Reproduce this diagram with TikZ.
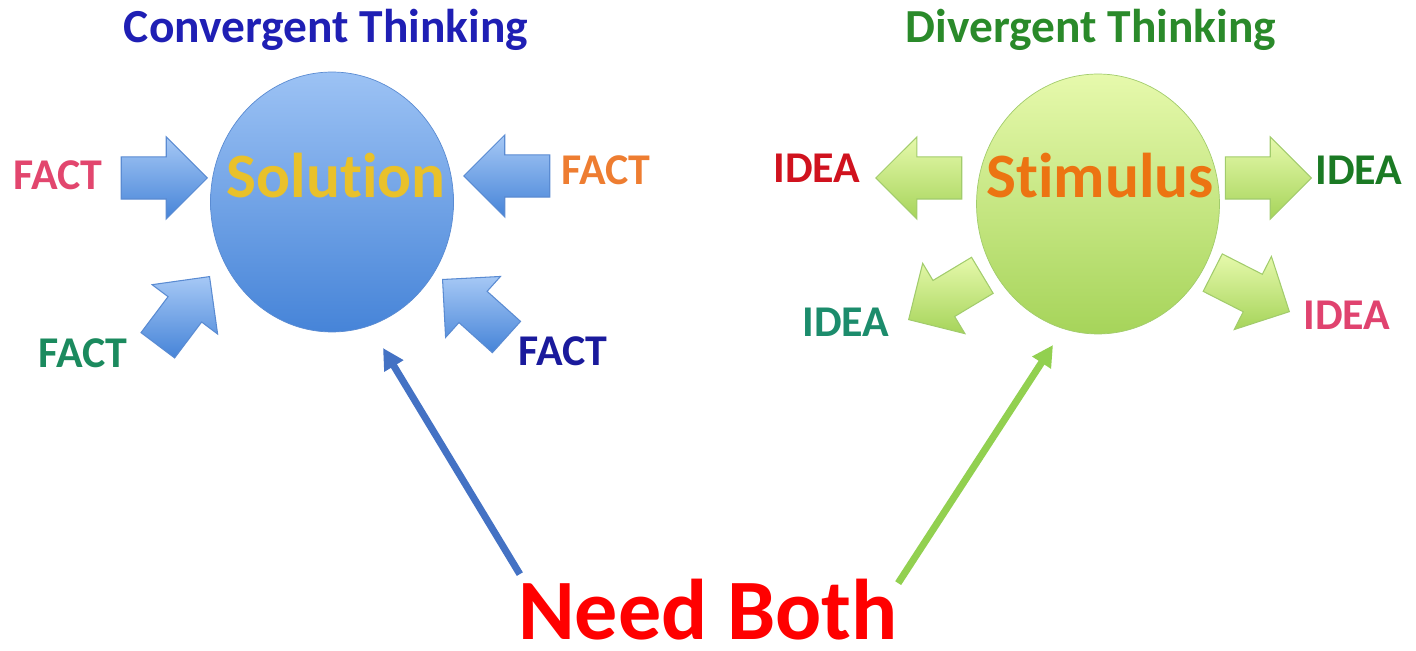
\documentclass[tikz,border=0pt]{standalone}
\usepackage{fontspec}
\setmainfont{Carlito}[Ligatures=NoCommon]
\usetikzlibrary{arrows.meta, shapes.geometric, shapes.arrows, calc}

\definecolor{convblue}{HTML}{1F1FB4}
\definecolor{divgreen}{HTML}{2A8A2A}
\definecolor{soltop}{HTML}{9CC2F4}
\definecolor{solbot}{HTML}{4684D8}
\definecolor{solborder}{HTML}{5A8BD2}
\definecolor{stimtop}{HTML}{E6F9AC}
\definecolor{stimbot}{HTML}{A6D45A}
\definecolor{stimborder}{HTML}{A2CC6C}
\definecolor{solgold}{HTML}{E9C12A}
\definecolor{stimorange}{HTML}{EC7412}
\definecolor{factpink}{HTML}{E2466E}
\definecolor{factorange}{HTML}{EE7D31}
\definecolor{factgreen}{HTML}{1B8A5E}
\definecolor{factnavy}{HTML}{1A1A9C}
\definecolor{ideared}{HTML}{D0121E}
\definecolor{ideagreen}{HTML}{1B7A24}
\definecolor{ideateal}{HTML}{1C8C6C}
\definecolor{ideapink}{HTML}{E0436F}
\definecolor{needred}{HTML}{FF0000}
\definecolor{needblue}{HTML}{4472C4}
\definecolor{needgreen}{HTML}{92D050}

\tikzset{
  blob/.style = {ellipse, minimum width=4.86cm, minimum height=5.2cm, inner sep=0pt},
  fatarrow/.style = {single arrow, inner sep=0pt, inner ysep=0.41cm,
    minimum height=1.72cm, minimum width=1.6cm, single arrow head extend=0.4cm},
  bluearrow/.style = {fatarrow, draw=solborder, line width=0.6pt,
    top color=soltop!90!white, bottom color=solbot},
  greenarrow/.style = {fatarrow, draw=stimborder, line width=0.6pt,
    top color=stimtop, bottom color=stimbot},
  title/.style = {font=\fontsize{27}{27}\selectfont\bfseries, inner sep=0pt},
  bigword/.style = {font=\fontsize{36}{36}\selectfont\bfseries, inner sep=0pt},
  tag/.style = {font=\fontsize{25}{25}\selectfont\bfseries, inner sep=0pt},
  needarrow/.style = {line width=4pt, -{Triangle[length=12pt, width=12pt]}},
}

\begin{document}
\begin{tikzpicture}[x=0.02cm, y=-0.02cm]
	\useasboundingbox (0,0) rectangle (1416,651);

	\node[title, text=convblue] (convtitle) at (326,30) {Convergent Thinking};
	\node[title, text=divgreen] (divtitle) at (1091,30) {Divergent Thinking};

	\begin{scope}
		\node[blob, draw=solborder, top color=soltop, bottom color=solbot] (sol) at (332,202) {};
		\node[bigword, text=solgold] (soltext) at (336,176) {Solut\kern0pt ion};

		\node[bluearrow, anchor=tip] (factW) at (208,178) {};
		\node[bluearrow, rotate=180, anchor=tip] (factE) at (463,176) {};
		\node[bluearrow, rotate=53, anchor=tip] (factSW) at (210,276) {};
		\node[bluearrow, rotate=138, anchor=tip] (factSE) at (442,279) {};

		\node[tag, text=factpink] (factWtxt) at (58,175) {FACT};
		\node[tag, text=factorange] (factEtxt) at (606,170) {FACT};
		\node[tag, text=factgreen] (factSWtxt) at (83,353) {FACT};
		\node[tag, text=factnavy] (factSEtxt) at (563,351) {FACT};
	\end{scope}

	\begin{scope}
		\node[blob, draw=stimborder, top color=stimtop, bottom color=stimbot] (stim) at (1098,204) {};
		\node[bigword, text=stimorange] (stimtext) at (1100,176) {St\kern0pt imulus};

		\node[greenarrow, rotate=180, anchor=tip] (ideaW) at (875,178) {};
		\node[greenarrow, anchor=tip] (ideaE) at (1312,178) {};
		\node[greenarrow, rotate=211, anchor=tip] (ideaSW) at (908,320) {};
		\node[greenarrow, rotate=-27, anchor=tip] (ideaSE) at (1290,312) {};

		\node[tag, text=ideared] (ideaWtxt) at (817,168) {IDEA};
		\node[tag, text=ideagreen] (ideaEtxt) at (1359,170) {IDEA};
		\node[tag, text=ideateal] (ideaSWtxt) at (846,322) {IDEA};
		\node[tag, text=ideapink] (ideaSEtxt) at (1347,315) {IDEA};
	\end{scope}

	\node[font=\fontsize{49}{49}\selectfont\bfseries, text=needred, inner sep=0pt] (need) at (708,610) {Need Both};

	\coordinate (soltip) at (383,348);
	\coordinate (stimtip) at (1053,345);
	\draw[needarrow, needblue] ($(need.north west)+(2,-5)$) -- (soltip);
	\draw[needarrow, needgreen] ($(need.north east)+(0,4)$) -- (stimtip);
\end{tikzpicture}
\end{document}
